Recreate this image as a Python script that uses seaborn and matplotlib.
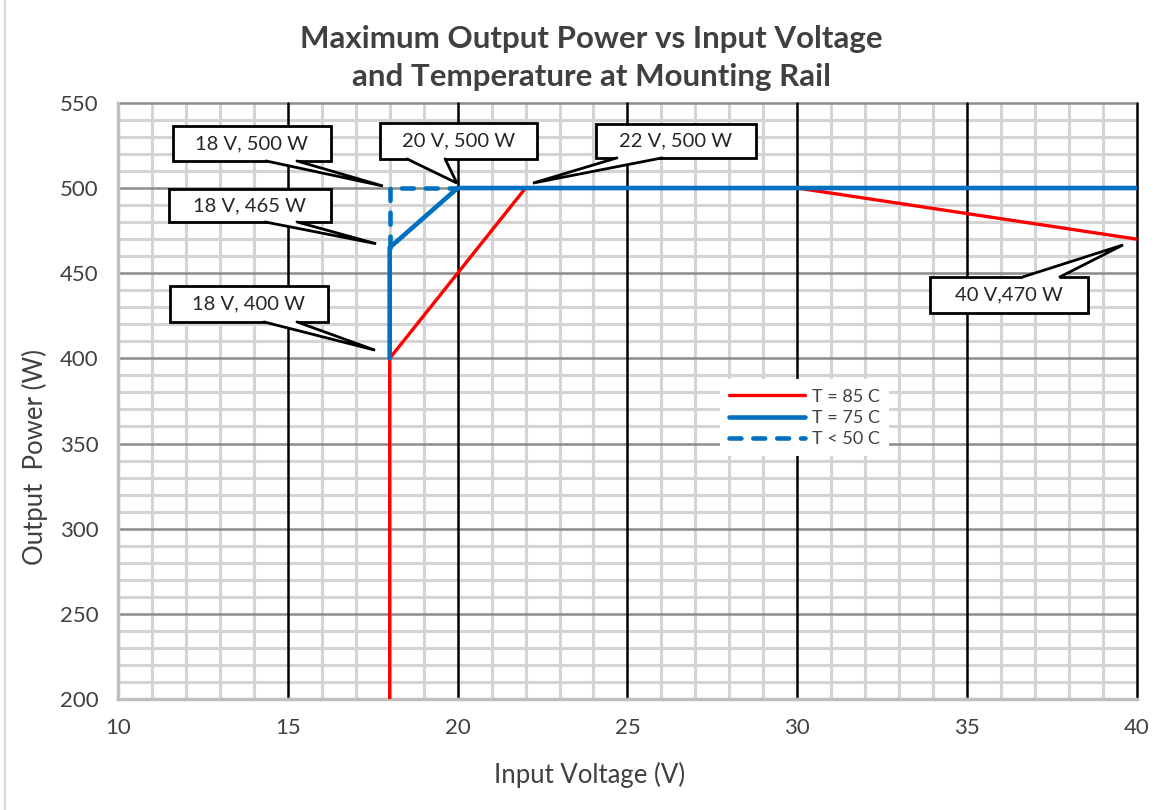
import numpy as np
import pandas as pd
import seaborn as sns
import matplotlib.pyplot as plt
from matplotlib.ticker import MultipleLocator
from matplotlib.patches import Rectangle, Polygon
from matplotlib.lines import Line2D

# data
v85 = [18, 18, 22, 30, 40]
p85 = [200, 400, 500, 500, 470]
v75 = [18, 18, 20, 40]
p75 = [400, 465, 500, 500]
v50 = [18, 18, 20]
p50 = [465, 500, 500]

callout_labels = ['18 V, 500 W', '20 V, 500 W', '22 V, 500 W', '18 V, 465 W', '18 V, 400 W', '40 V,470 W']

sns.set_style('white')
plt.rcParams['font.family'] = ['Lato', 'DejaVu Sans']

fig = plt.figure(figsize=(11.76, 8.1), dpi=100)
ax = fig.add_axes([0.1003, 0.137, 0.8665, 0.736])

red = '#ff0000'
blue = '#0070c0'

sns.lineplot(x=v85, y=p85, sort=False, estimator=None, color=red, lw=2.4, ax=ax, label='T = 85 C', zorder=5)
sns.lineplot(x=v75, y=p75, sort=False, estimator=None, color=blue, lw=3.3, ax=ax, label='T = 75 C', zorder=6)
sns.lineplot(x=v50, y=p50, sort=False, estimator=None, color=blue, lw=3.3, ax=ax, label='T < 50 C',
             zorder=6, linestyle=(0, (2.6, 2.6)), dash_capstyle='round')

ax.set_xlim(10, 40)
ax.set_ylim(200, 550)
ax.xaxis.set_major_locator(MultipleLocator(5))
ax.xaxis.set_minor_locator(MultipleLocator(1))
ax.yaxis.set_major_locator(MultipleLocator(50))
ax.yaxis.set_minor_locator(MultipleLocator(10))

# grid: light minor lines, gray horizontal majors, black vertical majors on top
ax.grid(which='minor', axis='both', color='#d4d4d4', lw=2.2)
ax.set_axisbelow(True)
for yv in ax.get_yticks():
    if 200 < yv <= 550:
        ax.axhline(yv, color='#8c8c8c', lw=1.8, zorder=1.1, clip_on=False)
for xv in ax.get_xticks():
    if 10 < xv <= 40:
        ax.axvline(xv, color='black', lw=1.8, zorder=1.2, clip_on=False)

ax.tick_params(which='both', length=0, labelsize=16, labelcolor='#404040')
ax.tick_params(axis='x', pad=14)
ax.tick_params(axis='y', pad=14)

for s in ['top', 'right']:
    ax.spines[s].set_visible(False)
for s in ['left', 'bottom']:
    ax.spines[s].set_color('#bfbfbf')
    ax.spines[s].set_linewidth(2.5)

ax.set_xlabel('Input Voltage (V)', fontsize=18.5, color='#404040')
ax.set_ylabel('Output  Power (W)', fontsize=18.5, color='#404040')
ax.xaxis.set_label_coords(0.463, -0.105)
ax.yaxis.set_label_coords(-0.069, 0.406)
fig.text(0.5026, 0.928, 'Maximum Output Power vs Input Voltage\nand Temperature at Mounting Rail',
         ha='center', va='center', fontsize=22.5, fontweight='bold', color='#404040', linespacing=1.42)

# callout boxes: (x0, x1, y0, y1), wedge base (xa, xb, edge y), tip (x, y)
boxes = [(11.62, 16.27, 515.9, 536.5), (17.71, 22.34, 517.1, 538.3), (24.07, 28.78, 517.7, 537.7),
         (11.50, 16.27, 480.1, 499.5), (11.53, 16.18, 421.4, 442.5), (33.91, 38.56, 426.7, 447.8)]
bases = [(14.36, 15.27, 515.9), (18.51, 19.63, 517.1), (24.69, 26.02, 517.7),
         (14.33, 15.27, 480.1), (14.30, 15.27, 421.4), (36.64, 37.73, 447.8)]
tips = [(17.80, 501.2), (19.98, 502.9), (22.22, 502.9), (17.60, 467.3), (17.57, 404.8), (39.59, 466.6)]

for lab, (x0, x1, y0, y1), (xa, xb, ye), (tx, ty) in zip(callout_labels, boxes, bases, tips):
    ax.add_patch(Rectangle((x0, y0), x1 - x0, y1 - y0, fc='white', ec='black', lw=2.0, zorder=10))
    inward = 1.5 if ye == y0 else -1.5
    ax.add_patch(Polygon([(xa, ye + inward), (xa, ye), (tx, ty), (xb, ye), (xb, ye + inward)],
                         closed=True, fc='white', ec='none', zorder=11))
    ax.add_line(Line2D([xa, tx, xb], [ye, ty, ye], color='black', lw=2.0, zorder=12,
                       solid_joinstyle='miter'))
    ax.text((x0 + x1) / 2, (y0 + y1) / 2, lab, ha='center', va='center',
            fontsize=14.5, color='#262626', zorder=13)

leg = ax.legend(loc='center', bbox_to_anchor=(0.674, 0.4715), frameon=True, fontsize=13,
                handlelength=4.2, labelspacing=0.3, handletextpad=0.4, borderpad=0.5)
leg.get_frame().set_edgecolor('none')
leg.get_frame().set_facecolor('white')
leg.get_frame().set_alpha(1)
for t in leg.get_texts():
    t.set_color('#404040')

fig.add_artist(Line2D([0.004, 0.004], [0, 1], color='#d9d9d9', lw=1.5))

fig.savefig('out.png', dpi=100)
